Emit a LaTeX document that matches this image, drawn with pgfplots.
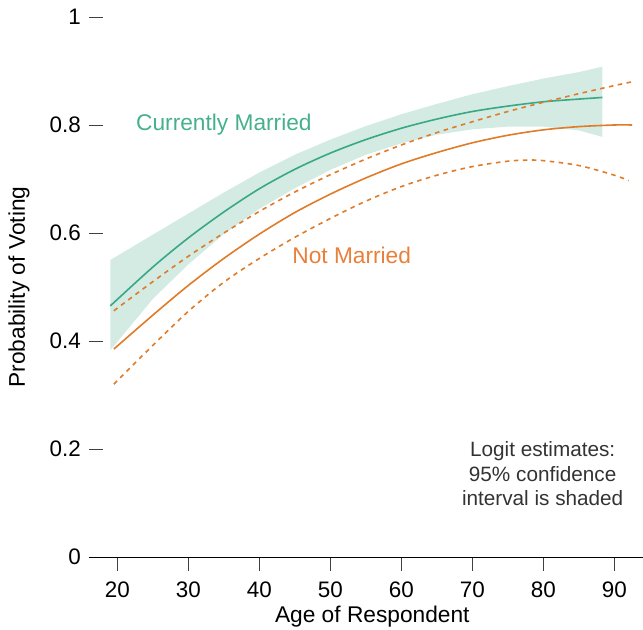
\documentclass[border=0pt]{standalone}
\usepackage{fontspec}
\setmainfont{Liberation Sans}
\usepackage{pgfplots}
\pgfplotsset{compat=1.18}
\definecolor{gline}{HTML}{38A886}
\definecolor{gtext}{HTML}{45B08E}
\definecolor{gband}{HTML}{D3EBE2}
\definecolor{oline}{HTML}{E07B28}
\definecolor{otext}{HTML}{E8803A}
\definecolor{ann}{HTML}{333333}
\begin{document}
\begin{tikzpicture}
\path[use as bounding box] (-89bp,-73bp) rectangle (554bp,557bp);
\begin{axis}[
  at={(0,0)}, anchor=south west,
  scale only axis, width=554bp, height=540bp,
  xmin=16, xmax=94.03, ymin=0, ymax=1,
  clip=false,
  axis x line*=bottom, axis y line*=left,
  y axis line style={draw=none},
  x axis line style={line width=0.9bp, black},
  xtick={20,30,...,90},
  ytick={0,0.2,0.4,0.6,0.8,1},
  yticklabels={0,0.2,0.4,0.6,0.8,1},
  major tick length=14bp,
  xtick style={line width=0.9bp, black!75},
  ytick style={line width=0.9bp, black!75},
  x tick label style={font=\fontsize{22.5}{26}\selectfont, inner sep=0pt, anchor=north, yshift=-11bp},
  y tick label style={font=\fontsize{22.5}{26}\selectfont, inner sep=0pt, anchor=east, xshift=-8bp},
  /pgf/number format/assume math mode=true,
  xtick align=outside, ytick align=inside,
]
% confidence band (married)
\addplot[draw=none, fill=gband] coordinates {
(19,0.550) (25,0.597) (30,0.636) (35,0.675) (40,0.712) (45,0.745) (50,0.773) (55,0.798) (60,0.820) (65,0.839) (70,0.857) (75,0.872) (80,0.886) (85,0.898) (88.3,0.908)
(88.3,0.778) (85,0.790) (80,0.797) (75,0.797) (70,0.792) (65,0.782) (60,0.766) (55,0.745) (50,0.717) (45,0.683) (40,0.645) (35,0.598) (30,0.542) (25,0.478) (19,0.383)
} -- cycle;
% married mean
\addplot[gline, line width=1.6bp, smooth] coordinates {
(19,0.465) (25,0.537) (30,0.591) (35,0.639) (40,0.682) (45,0.718) (50,0.748) (55,0.773) (60,0.794) (65,0.811) (70,0.825) (75,0.835) (80,0.843) (85,0.848) (88.3,0.851)
};
% not married mean
\addplot[oline, line width=1.6bp, smooth] coordinates {
(19.5,0.385) (25,0.448) (30,0.503) (35,0.553) (40,0.598) (45,0.638) (50,0.672) (55,0.702) (60,0.728) (65,0.749) (70,0.767) (75,0.781) (80,0.791) (85,0.797) (90,0.800) (92.5,0.800)
};
% not married upper CI
\addplot[oline, line width=1.6bp, smooth, dash pattern=on 4.5bp off 4.5bp] coordinates {
(19.5,0.456) (25,0.510) (30,0.557) (35,0.600) (40,0.640) (45,0.676) (50,0.708) (55,0.737) (60,0.763) (65,0.786) (70,0.806) (75,0.825) (80,0.842) (85,0.858) (90,0.873) (92.5,0.880)
};
% not married lower CI
\addplot[oline, line width=1.6bp, smooth, dash pattern=on 4.5bp off 4.5bp] coordinates {
(19.5,0.320) (25,0.392) (30,0.455) (35,0.509) (40,0.553) (45,0.592) (50,0.627) (55,0.659) (60,0.686) (65,0.707) (70,0.723) (75,0.733) (78,0.735) (80,0.734) (85,0.725) (90,0.707) (92,0.697)
};
\node[text=gtext, font=\fontsize{22.8}{26}\selectfont] at (axis cs:35.0,0.800) {Currently Married};
\node[text=otext, font=\fontsize{22.8}{26}\selectfont] at (axis cs:53.0,0.559) {Not Married};
\node[text=ann, align=center, font=\fontsize{20.8}{24.5}\selectfont] at (axis cs:79.9,0.154) {Logit estimates:\\95\% confidence\\interval is shaded};
\node[font=\fontsize{22.8}{26}\selectfont] at (axis cs:55.9,-0.111) {Age of Respondent};
\end{axis}
\node[font=\fontsize{22.8}{26}\selectfont, rotate=90] at (-70bp,270bp) {Probability of Voting};
\end{tikzpicture}
\end{document}
